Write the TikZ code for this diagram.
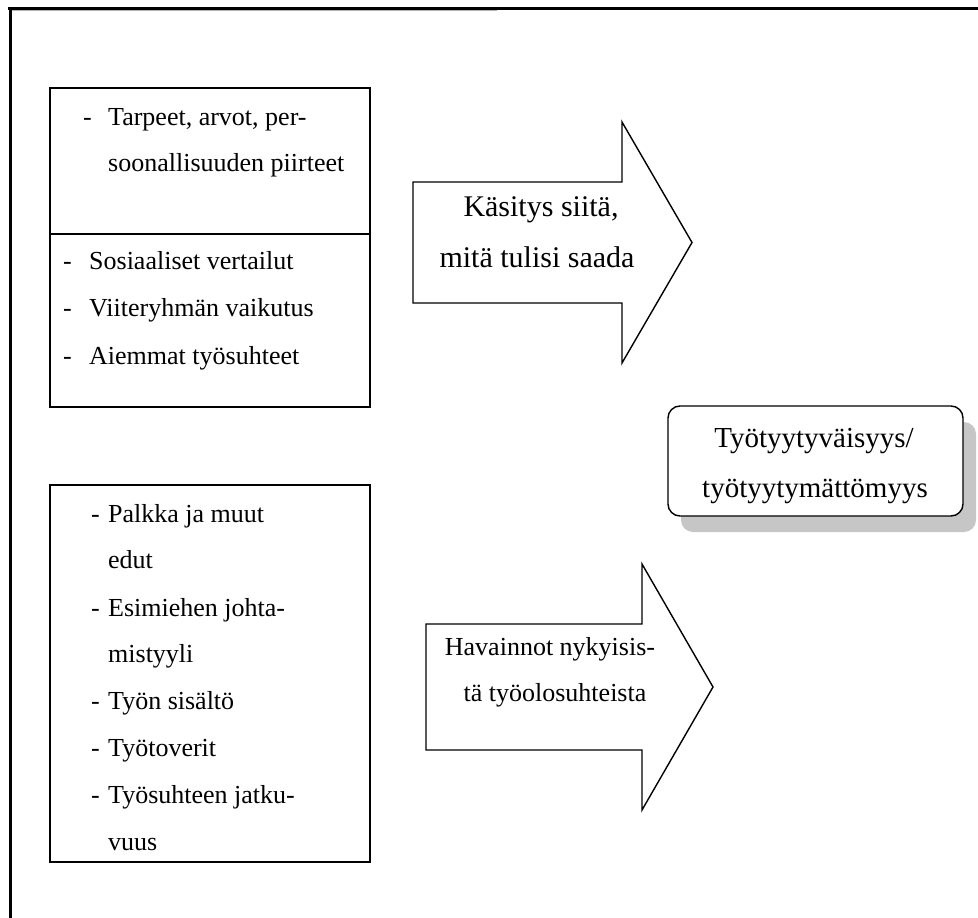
\documentclass[tikz,border=0pt]{standalone}
\usepackage{fontspec}
\setmainfont{Liberation Serif}
\begin{document}
\begin{tikzpicture}[x=1pt,y=-1pt,
  frameline/.style={line width=2.2pt,draw=black},
  boxline/.style={draw=black,line width=1.4pt},
  arrowline/.style={draw=black,line width=1.4pt,fill=white,line join=miter},
  txt/.style={anchor=base west,inner sep=0pt,font=\fontsize{26}{30}\selectfont},
  ctxt/.style={anchor=base,inner sep=0pt,font=\fontsize{26}{30}\selectfont},
  bigtxt/.style={anchor=base,inner sep=0pt,font=\fontsize{30}{34}\selectfont},
  restxt/.style={anchor=base,inner sep=0pt,font=\fontsize{29}{33}\selectfont}]
\useasboundingbox (0,0) rectangle (978,918);

% outer frame
\draw[frameline] (8,8.5) -- (978,8.5);
\draw[frameline] (10.5,8) -- (10.5,918);
\draw[gray!60,line width=1.2pt] (11.6,10.8) -- (497,10.8);

% box 1
\draw[boxline] (50,88) rectangle (370,407);
\draw[boxline] (50,234) -- (370,234);
\node[txt] (d11) at (83,125) {-};
\node[txt] (t11) at (108,125) {Tarpeet, arvot, per-};
\node[txt] (t12) at (108,171) {soonallisuuden piirteet};
\node[txt] (d12) at (63,269) {-};
\node[txt] (t13) at (89,269) {Sosiaaliset vertailut};
\node[txt] (d13) at (63,316) {-};
\node[txt] (t14) at (89,316) {Viiteryhmän vaikutus};
\node[txt] (d14) at (63,364) {-};
\node[txt] (t15) at (89,364) {Aiemmat työsuhteet};

% box 2
\draw[boxline] (50,485) rectangle (370,862);
\node[txt] (d21) at (91,522) {-};
\node[txt] (t21) at (108,522) {Palkka ja muut};
\node[txt] (t22) at (108,568) {edut};
\node[txt] (d23) at (91,616) {-};
\node[txt] (t23) at (108,616) {Esimiehen johta-};
\node[txt] (t24) at (108,662) {mistyyli};
\node[txt] (d25) at (91,709) {-};
\node[txt] (t25) at (108,709) {Työn sisältö};
\node[txt] (d26) at (91,756) {-};
\node[txt] (t26) at (108,756) {Työtoverit};
\node[txt] (d27) at (91,803) {-};
\node[txt] (t27) at (108,803) {Työsuhteen jatku-};
\node[txt] (t28) at (108,850) {vuus};

% arrow 1
\draw[arrowline] (413,182) -- (622,182) -- (622,122) -- (692,242.5)
  -- (622,363) -- (622,303) -- (413,303) -- cycle;
\node[bigtxt] (a11) at (541,216) {Käsitys siitä,};
\node[bigtxt] (a12) at (537,267) {mitä tulisi saada};

% arrow 2
\draw[arrowline] (426,624) -- (642,624) -- (642,564) -- (713,687)
  -- (642,810) -- (642,750) -- (426,750) -- cycle;
\node[ctxt] (a21) at (550,655) {Havainnot nykyisis-};
\node[ctxt] (a22) at (555,701) {tä työolosuhteista};

% result box
\fill[gray!45,rounded corners=12pt] (681,422) rectangle (976,532);
\node[draw=black,line width=1.4pt,fill=white,rounded corners=12pt,
  minimum width=295pt,minimum height=110pt,inner sep=0pt] (res) at (815.5,461) {};
\node[restxt] (r1) at (814,447) {Työtyytyväisyys/};
\node[restxt] (r2) at (815,497) {työtyytymättömyys};
\end{tikzpicture}
\end{document}
